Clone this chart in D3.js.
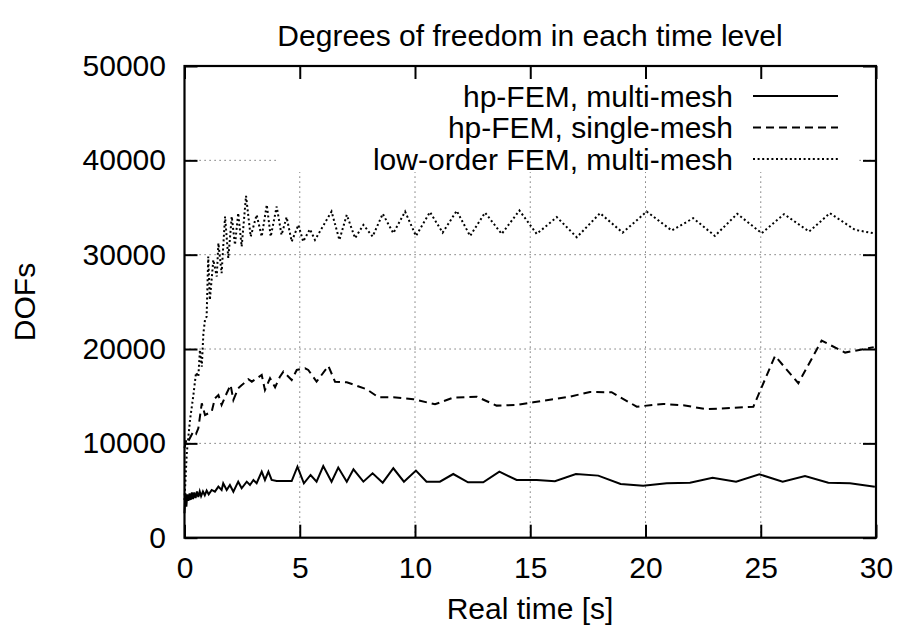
<!DOCTYPE html>
<html>
<head>
<meta charset="utf-8">
<script src="https://cdn.jsdelivr.net/npm/d3@7"></script>
<style>
  html, body { margin: 0; padding: 0; background: #fff; }
  svg { display: block; }
  text { font-family: "Liberation Sans", Arial, Helvetica, sans-serif; fill: #000; }
</style>
</head>
<body>
<svg id="chart" width="899" height="627"></svg>
<script>
// ---------------- data ----------------
const chartTitle = "Degrees of freedom in each time level";
const xLabel = "Real time [s]";
const yLabel = "DOFs";
const seriesNames = ["hp-FEM, multi-mesh", "hp-FEM, single-mesh", "low-order FEM, multi-mesh"];
const xTicks = [0, 5, 10, 15, 20, 25, 30];
const yTicks = [0, 10000, 20000, 30000, 40000, 50000];

// hp-FEM, multi-mesh : [time, DOFs]
const hpMulti = [
  [0, 2600], [0.04, 4700], [0.08, 3300], [0.12, 4600], [0.17, 3900], [0.22, 4700], [0.27, 4000],
  [0.32, 4800], [0.37, 4100], [0.42, 4800], [0.48, 4200], [0.54, 4900], [0.6, 4300], [0.66, 4900],
  [0.72, 4400], [0.8, 4900], [0.88, 4500], [0.96, 5000], [1.05, 4600], [1.18, 5060], [1.32, 4880],
  [1.47, 5410], [1.61, 5060], [1.68, 5770], [1.83, 5060], [1.97, 5590], [2.12, 4880], [2.33, 5940],
  [2.48, 5240], [2.7, 5940], [2.84, 5590], [2.99, 6120], [3.13, 5770], [3.35, 7000], [3.49, 6120],
  [3.64, 7000], [3.78, 6120], [4.0, 6010], [4.65, 6010], [4.9, 7530], [5.18, 5770], [5.47, 6650],
  [5.73, 5940], [6.02, 7600], [6.38, 5940], [6.67, 7430], [7.04, 5940], [7.33, 7250], [7.76, 5940],
  [8.16, 6830], [8.6, 5830], [9.06, 7360], [9.52, 5940], [10.04, 7110], [10.5, 5940], [11.08, 5940],
  [11.66, 6750], [12.3, 5870], [12.96, 5870], [13.66, 7000], [14.41, 6120], [15.28, 6120],
  [16.07, 5980], [16.98, 6750], [17.95, 6580], [18.92, 5690], [19.9, 5500], [20.92, 5770],
  [21.93, 5830], [22.91, 6360], [23.93, 5940], [24.94, 6720], [25.95, 5940], [26.92, 6540],
  [27.93, 5830], [28.87, 5770], [29.95, 5400]
];

// hp-FEM, single-mesh
const hpSingle = [
  [0, 9500], [0.1, 10600], [0.2, 10400], [0.38, 11240], [0.5, 11000], [0.6, 11600], [0.75, 14250],
  [0.89, 13010], [1.05, 13200], [1.18, 13360], [1.32, 14780], [1.47, 15130], [1.61, 14070],
  [1.83, 15310], [2.0, 16190], [2.12, 14600], [2.33, 15840], [2.5, 16200], [2.77, 16800],
  [2.92, 16540], [3.35, 17250], [3.49, 15660], [3.71, 16900], [3.93, 15950], [4.14, 17070],
  [4.29, 17600], [4.65, 16720], [4.87, 17780], [5.23, 17960], [5.37, 17780], [5.73, 16540],
  [6.24, 18210], [6.53, 16540], [7.04, 16480], [7.9, 15740], [8.41, 14890], [9.06, 14890],
  [9.93, 14680], [10.87, 14140], [11.66, 14850], [12.68, 14950], [13.54, 14000], [14.41, 14070],
  [15.13, 14360], [16.72, 14950], [17.59, 15450], [18.53, 15420], [19.62, 13890], [20.77, 14180],
  [21.64, 14040], [22.65, 13620], [23.67, 13750], [24.68, 13890], [25.62, 19270], [26.63, 16370],
  [27.64, 20890], [28.66, 19620], [29.9, 20200]
];

// low-order FEM, multi-mesh
const lowMulti = [
  [0, 4000], [0.1, 9000], [0.24, 12500], [0.38, 15000], [0.5, 17500], [0.6, 17070], [0.67, 19900],
  [0.75, 18130], [0.82, 21680], [0.89, 23090], [0.96, 23440], [1.03, 29800], [1.1, 25200],
  [1.25, 29450], [1.4, 27680], [1.47, 31220], [1.61, 28040], [1.76, 34040], [1.9, 29630],
  [2.05, 34040], [2.19, 31040], [2.33, 34400], [2.48, 30860], [2.67, 36240], [2.87, 31920],
  [3.13, 34220], [3.35, 31920], [3.57, 35280], [3.74, 31920], [4.0, 35100], [4.21, 32100],
  [4.43, 33980], [4.65, 31390], [4.94, 33160], [5.15, 31390], [5.44, 32700], [5.66, 31570],
  [6.38, 34570], [6.72, 31570], [7.04, 34220], [7.4, 31750], [7.76, 33160], [8.16, 31920],
  [8.6, 34330], [9.06, 32280], [9.57, 34570], [10.04, 31990], [10.65, 34510], [11.2, 32340],
  [11.81, 34650], [12.39, 31990], [13.04, 34460], [13.76, 32200], [14.53, 34680], [15.28, 32200],
  [16.15, 33980], [17.02, 31850], [18.03, 34400], [19.01, 32340], [20.05, 34570], [21.14, 32560],
  [22.07, 33870], [23.01, 31990], [23.98, 34330], [25.04, 32280], [26.01, 34290], [27.1, 32450],
  [28.0, 34400], [29.09, 32630], [29.95, 32250]
];

const seriesData = [hpMulti, hpSingle, lowMulti];
const seriesDash = [null, "8,5", "2,2.6"];

// ---------------- layout ----------------
const svg = d3.select("#chart");
const pLeft = 184.5, pRight = 876, pTop = 66, pBottom = 537.7;
const x = d3.scaleLinear().domain([0, 30]).range([pLeft, pRight]);
const y = d3.scaleLinear().domain([0, 50000]).range([pBottom, pTop]);
const FS = 30;
const tickLen = 13;

// grid
const grid = svg.append("g").attr("stroke", "#555").attr("stroke-width", 1).attr("stroke-dasharray", "1.2,3.8");
grid.selectAll("line.gx").data(xTicks.slice(1, -1)).join("line").attr("class", "gx")
  .attr("x1", d => x(d)).attr("x2", d => x(d)).attr("y1", pBottom).attr("y2", pTop);
grid.selectAll("line.gy").data(yTicks.slice(1, -1)).join("line").attr("class", "gy")
  .attr("x1", pLeft).attr("x2", pRight).attr("y1", d => y(d)).attr("y2", d => y(d));

// opaque legend box
svg.append("rect").attr("x", 278).attr("y", pTop + 1).attr("width", 857 - 278).attr("height", 172 - pTop - 1).attr("fill", "#fff");

// axes
const axBottom = svg.append("g").attr("transform", `translate(0,${pBottom})`)
  .call(d3.axisBottom(x).tickValues(xTicks).tickFormat(d3.format("d")).tickSizeInner(-tickLen).tickSizeOuter(0).tickPadding(19));
const axLeft = svg.append("g").attr("transform", `translate(${pLeft},0)`)
  .call(d3.axisLeft(y).tickValues(yTicks).tickFormat(d3.format("d")).tickSizeInner(-tickLen).tickSizeOuter(0).tickPadding(18.5));
const axTop = svg.append("g").attr("transform", `translate(0,${pTop})`)
  .call(d3.axisTop(x).tickValues(xTicks).tickFormat("").tickSizeInner(-tickLen).tickSizeOuter(0));
const axRight = svg.append("g").attr("transform", `translate(${pRight},0)`)
  .call(d3.axisRight(y).tickValues(yTicks).tickFormat("").tickSizeInner(-tickLen).tickSizeOuter(0));
[axBottom, axLeft, axTop, axRight].forEach(a => {
  a.select(".domain").remove();
  a.selectAll(".tick line").attr("stroke", "#000").attr("stroke-width", 2);
  a.selectAll("text").attr("font-size", FS).attr("font-family", "'Liberation Sans', Arial, sans-serif").attr("fill", "#000");
});

// border
svg.append("rect").attr("x", pLeft).attr("y", pTop).attr("width", pRight - pLeft).attr("height", pBottom - pTop)
  .attr("fill", "none").attr("stroke", "#000").attr("stroke-width", 2.2);

// titles
svg.append("text").attr("x", 530).attr("y", 46).attr("text-anchor", "middle").attr("font-size", FS).text(chartTitle);
svg.append("text").attr("x", 530).attr("y", 619).attr("text-anchor", "middle").attr("font-size", FS).text(xLabel);
svg.append("text").attr("transform", "translate(35,302) rotate(-90)").attr("text-anchor", "middle").attr("font-size", FS).text(yLabel);

// legend
const legendRows = [96, 127.5, 159];
seriesNames.forEach((name, i) => {
  svg.append("text").attr("x", 733).attr("y", legendRows[i]).attr("dy", "0.36em")
    .attr("text-anchor", "end").attr("font-size", FS).text(name);
  svg.append("line").attr("x1", 753).attr("x2", 838).attr("y1", legendRows[i]).attr("y2", legendRows[i])
    .attr("stroke", "#000").attr("stroke-width", 2)
    .attr("stroke-dasharray", seriesDash[i]);
});

// data lines
const line = d3.line().x(d => x(d[0])).y(d => y(d[1]));
seriesData.forEach((data, i) => {
  svg.append("path").datum(data).attr("d", line)
    .attr("fill", "none").attr("stroke", "#000").attr("stroke-width", 2)
    .attr("stroke-linejoin", "miter")
    .attr("stroke-dasharray", seriesDash[i]);
});
</script>
</body>
</html>
